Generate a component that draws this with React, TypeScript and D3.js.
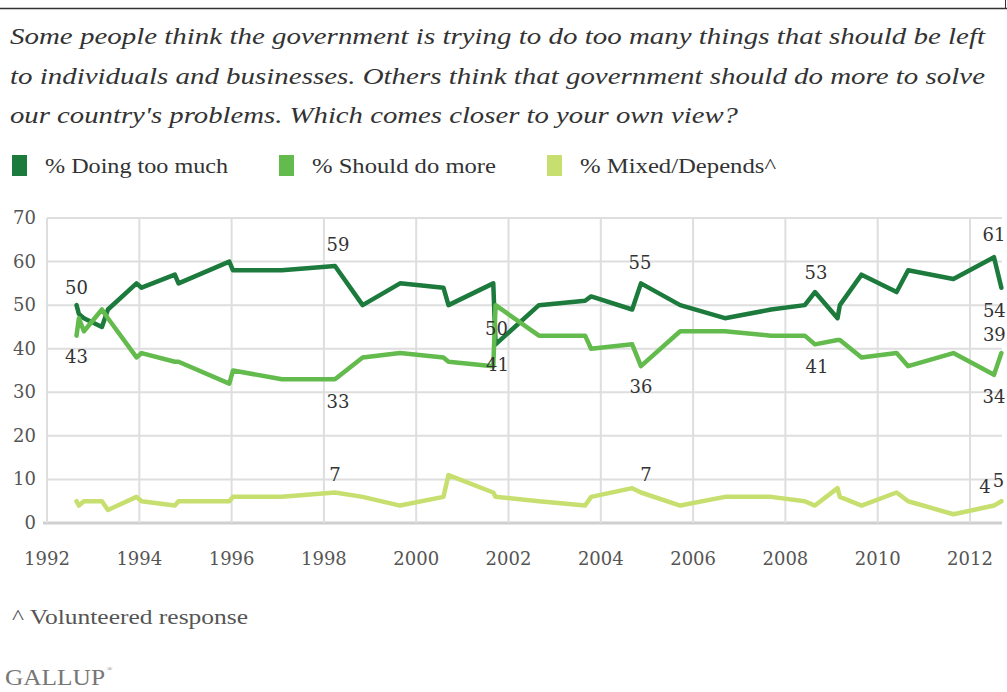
import React from 'react';
import * as d3 from 'd3';

const W = 1007;
const H = 692;

const titleLines = [
  "Some people think the government is trying to do too many things that should be left",
  "to individuals and businesses. Others think that government should do more to solve",
  "our country's problems. Which comes closer to your own view?",
];
const titleWidths = [975, 975, 728];

const seriesNames = ["% Doing too much", "% Should do more", "% Mixed/Depends^"];
const seriesColors = ["#1b7a3c", "#62bb4c", "#c6df6e"];
const legendWidths = [183, 184, 196];

const dates = [
  1992.64, 1992.69, 1992.8, 1993.19, 1993.32, 1993.94, 1994.05, 1994.77, 1994.85, 1995.95,
  1996.03, 1997.09, 1998.24, 1998.84, 1999.65, 2000.59, 2000.7, 2001.67, 2001.72, 2002.66,
  2003.66, 2003.79, 2004.68, 2004.87, 2005.72, 2006.69, 2007.69, 2008.42, 2008.64, 2009.13,
  2009.18, 2009.65, 2010.41, 2010.66, 2011.64, 2012.52, 2012.68,
];
const doingTooMuch = [
  50, 48, 47, 45, 49, 55, 54, 57, 55, 60,
  58, 58, 59, 50, 55, 54, 50, 55, 41, 50,
  51, 52, 49, 55, 50, 47, 49, 50, 53, 47,
  50, 57, 53, 58, 56, 61, 54,
];
const shouldDoMore = [
  43, 47, 44, 49, 47, 38, 39, 37, 37, 32,
  35, 33, 33, 38, 39, 38, 37, 36, 50, 43,
  43, 40, 41, 36, 44, 44, 43, 43, 41, 42,
  42, 38, 39, 36, 39, 34, 39,
];
const mixedDepends = [
  5, 4, 5, 5, 3, 6, 5, 4, 5, 5,
  6, 6, 7, 6, 4, 6, 11, 7, 6, 5,
  4, 6, 8, 7, 4, 6, 6, 5, 4, 8,
  6, 4, 7, 5, 2, 4, 5,
];
const seriesValues = [doingTooMuch, shouldDoMore, mixedDepends];

const yTicks = [0, 10, 20, 30, 40, 50, 60, 70];
const xTicks = [1992, 1994, 1996, 1998, 2000, 2002, 2004, 2006, 2008, 2010, 2012];

// labelled points: series index, point index, offsets from the point
const pointLabels = [
  { s: 0, i: 0, dx: 0, dy: -11 },
  { s: 1, i: 0, dx: 0, dy: 27 },
  { s: 0, i: 12, dx: 3, dy: -15 },
  { s: 1, i: 12, dx: 3, dy: 29 },
  { s: 2, i: 12, dx: 0, dy: -12 },
  { s: 1, i: 18, dx: 1, dy: 30 },
  { s: 0, i: 18, dx: 2, dy: 27 },
  { s: 0, i: 23, dx: -1, dy: -14 },
  { s: 1, i: 23, dx: 0, dy: 27 },
  { s: 2, i: 23, dx: 5, dy: -12 },
  { s: 0, i: 28, dx: 1, dy: -13 },
  { s: 1, i: 28, dx: 2, dy: 29 },
  { s: 0, i: 35, dx: 0, dy: -16 },
  { s: 0, i: 36, dx: -7, dy: 29 },
  { s: 1, i: 36, dx: -7, dy: -12 },
  { s: 1, i: 35, dx: 0, dy: 28 },
  { s: 2, i: 35, dx: -9, dy: -13 },
  { s: 2, i: 36, dx: -3, dy: -14 },
];

const footnote = "^ Volunteered response";
const brand = "GALLUP";

export default function App() {
  const x = d3.scaleLinear().domain([1992, 2012]).range([47, 970]);
  const y = d3.scaleLinear().domain([0, 70]).range([523, 218]);
  const xRight = 1002;

  const line = d3
    .line<number>()
    .x((_, i) => x(dates[i]))
    .y((d) => y(d));

  const serif = "'Liberation Serif', 'Times New Roman', serif";
  const numFont = "'DejaVu Serif', serif";

  return (
    <svg
      width={W}
      height={H}
      style={{ position: 'absolute', left: 0, top: 0, background: '#fff' }}
      xmlns="http://www.w3.org/2000/svg"
    >
      <rect x={0} y={0} width={W} height={H} fill="#fff" />
      {/* top rule */}
      <line x1={0} x2={W} y1={8.5} y2={8.5} stroke="#333" strokeWidth={1.5} />
      <line x1={1005.5} x2={1005.5} y1={0} y2={9} stroke="#333" strokeWidth={1} />

      {/* title */}
      {titleLines.map((t, k) => (
        <text
          key={k}
          x={10}
          y={44 + k * 39.5}
          fontFamily={serif}
          fontStyle="italic"
          fontSize={23}
          fill="#333"
          textLength={titleWidths[k]}
          lengthAdjust="spacingAndGlyphs"
        >
          {t}
        </text>
      ))}

      {/* legend */}
      {seriesNames.map((n, k) => {
        const lx = [12, 279, 547][k];
        return (
          <g key={n}>
            <rect x={lx} y={155} width={15} height={21} fill={seriesColors[k]} />
            <text
              x={lx + 33}
              y={173}
              fontFamily={serif}
              fontSize={21}
              fill="#333"
              textLength={legendWidths[k]}
              lengthAdjust="spacingAndGlyphs"
            >
              {n}
            </text>
          </g>
        );
      })}

      {/* grid */}
      {yTicks.map((t) => (
        <g key={'y' + t}>
          <line
            x1={t === 0 ? 43 : x(1992)}
            x2={xRight}
            y1={y(t)}
            y2={y(t)}
            stroke={t === 0 ? '#cfcfcf' : '#dedede'}
            strokeWidth={t === 0 ? 3 : 2}
          />
          <text
            x={36}
            y={y(t) + 6}
            textAnchor="end"
            fontFamily={numFont}
            fontSize={18}
            fill="#555"
          >
            {t}
          </text>
        </g>
      ))}
      {xTicks.map((t) => (
        <g key={'x' + t}>
          <line x1={x(t)} x2={x(t)} y1={y(70)} y2={y(0)} stroke="#dedede" strokeWidth={2} />
          <text
            x={x(t)}
            y={565}
            textAnchor="middle"
            fontFamily={numFont}
            fontSize={18}
            fill="#555"
          >
            {t}
          </text>
        </g>
      ))}

      {/* lines */}
      {[2, 0, 1].map((s) => (
        <path
          key={'s' + s}
          d={line(seriesValues[s]) || ''}
          fill="none"
          stroke={seriesColors[s]}
          strokeWidth={4.5}
          strokeLinejoin="round"
          strokeLinecap="round"
        />
      ))}

      {/* point labels */}
      {pointLabels.map((l, k) => (
        <text
          key={'l' + k}
          x={x(dates[l.i]) + l.dx}
          y={y(seriesValues[l.s][l.i]) + l.dy}
          textAnchor="middle"
          fontFamily={numFont}
          fontSize={18}
          fill="#333"
        >
          {seriesValues[l.s][l.i]}
        </text>
      ))}

      {/* footer */}
      <text
        x={12}
        y={624}
        fontFamily={serif}
        fontSize={21}
        fill="#555"
        textLength={236}
        lengthAdjust="spacingAndGlyphs"
      >
        {footnote}
      </text>
      <text
        x={5}
        y={685}
        fontFamily={serif}
        fontSize={23}
        fill="#777"
        textLength={100}
        lengthAdjust="spacingAndGlyphs"
      >
        {brand}
      </text>
      <text x={107} y={671} fontFamily={serif} fontSize={7} fill="#777">
        ®
      </text>
    </svg>
  );
}
